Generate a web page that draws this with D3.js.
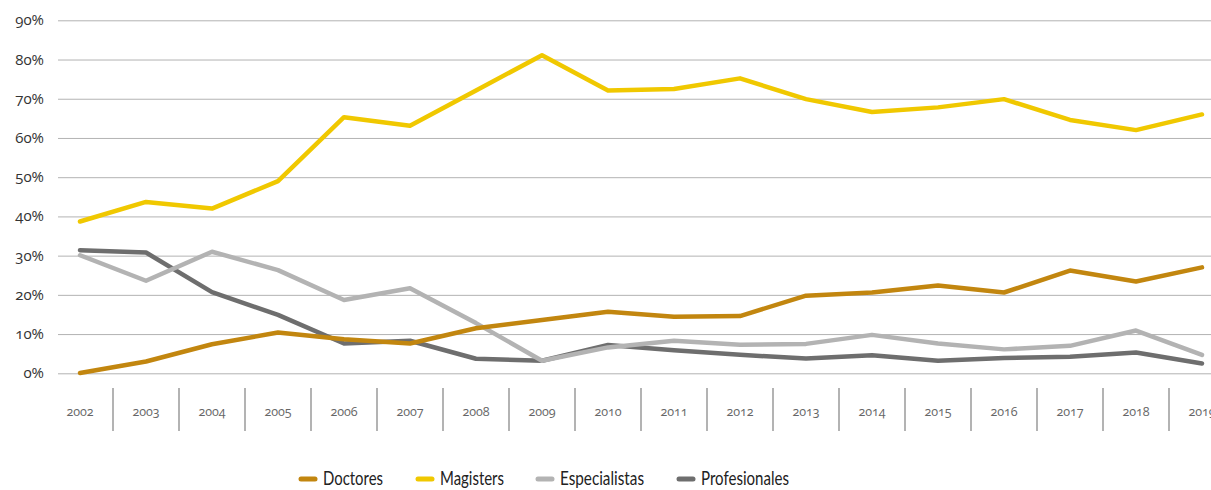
<!DOCTYPE html>
<html>
<head>
<meta charset="utf-8">
<script src="https://cdn.jsdelivr.net/npm/d3@7"></script>
<style>
  body { margin: 0; background: #fff; overflow: hidden; }
  text { font-family: "Open Sans", "Lato", sans-serif; font-feature-settings: "onum" 1; }
  .grid line { stroke: #b3b3b3; stroke-width: 1; }
  .grid text { fill: #333; font-size: 15px; }
  .year { fill: #666; font-size: 12.5px; }
  .legend text { fill: #222; font-size: 20px; font-family: "Lato", sans-serif; }
</style>
</head>
<body>
<script>
// data (percent)
var years = ["2002","2003","2004","2005","2006","2007","2008","2009","2010",
             "2011","2012","2013","2014","2015","2016","2017","2018","2019"];
var doctores      = [0.1, 3.0, 7.4, 10.4, 8.7, 7.6, 11.5, 13.6, 15.7, 14.4, 14.6, 19.8, 20.6, 22.4, 20.6, 26.2, 23.4, 27.0];
var magisters     = [38.7, 43.7, 42.0, 49.0, 65.3, 63.1, 72.1, 81.1, 72.1, 72.5, 75.2, 69.9, 66.6, 67.8, 69.9, 64.6, 62.0, 66.0];
var especialistas = [30.1, 23.6, 31.0, 26.3, 18.7, 21.7, 12.8, 3.2, 6.6, 8.3, 7.3, 7.5, 9.8, 7.6, 6.1, 7.0, 10.9, 4.7];
var profesionales = [31.4, 30.8, 20.7, 14.9, 7.6, 8.3, 3.7, 3.2, 7.2, 5.9, 4.7, 3.8, 4.6, 3.2, 3.9, 4.2, 5.3, 2.5];
var seriesNames  = ["Doctores", "Magisters", "Especialistas", "Profesionales"];
var seriesColors = ["#c2860f", "#f0c800", "#b3b3b3", "#6e6e6e"];
var yTicks = [0, 10, 20, 30, 40, 50, 60, 70, 80, 90];

var W = 1211, H = 490;
var svg = d3.select("body").append("svg")
    .attr("width", W)
    .attr("height", H);

var x = d3.scaleBand().domain(years).range([47, 47 + 66 * years.length]);
var y = d3.scaleLinear().domain([0, 90]).range([373.3, 20.3]);

// horizontal grid + y labels
var grid = svg.append("g")
    .attr("class", "grid")
    .attr("transform", "translate(58,0)")
    .call(d3.axisLeft(y)
        .tickValues(yTicks)
        .tickSize(-(x.range()[1] - 58))
        .tickPadding(14)
        .tickFormat(function (d) { return d + "%"; }));
grid.select(".domain").remove();
grid.selectAll("text").attr("dy", "0.3em");

// year labels and separators
var xg = svg.append("g");
xg.selectAll(".sep")
    .data(years.slice(1))
    .enter().append("line")
    .attr("class", "sep")
    .attr("x1", function (d) { return x(d); })
    .attr("x2", function (d) { return x(d); })
    .attr("y1", 388)
    .attr("y2", 431)
    .attr("stroke", "#b3b3b3")
    .attr("stroke-width", 2);

xg.selectAll(".year")
    .data(years)
    .enter().append("text")
    .attr("class", "year")
    .attr("x", function (d) { return x(d) + x.bandwidth() / 2; })
    .attr("y", 412)
    .attr("dy", "0.3em")
    .attr("text-anchor", "middle")
    .text(function (d) { return d; });

// lines (drawn in reverse order so Doctores ends on top)
var allSeries = [doctores, magisters, especialistas, profesionales];
var line = d3.line()
    .x(function (d, i) { return x(years[i]) + x.bandwidth() / 2; })
    .y(function (d) { return y(d); });

[3, 2, 1, 0].forEach(function (k) {
    svg.append("path")
        .datum(allSeries[k])
        .attr("fill", "none")
        .attr("stroke", seriesColors[k])
        .attr("stroke-width", 4.5)
        .attr("stroke-linejoin", "round")
        .attr("stroke-linecap", "round")
        .attr("d", line);
});

// legend (the original font is a condensed one, so squeeze the labels a bit)
var legendX = [301, 418, 538, 679];
var legendW = [60, 64, 84, 88];
var legend = svg.selectAll(".legend")
    .data(seriesNames)
    .enter().append("g")
    .attr("class", "legend")
    .attr("transform", function (d, i) { return "translate(" + legendX[i] + ",479)"; });

legend.append("line")
    .attr("x1", 0).attr("x2", 14)
    .attr("stroke", function (d, i) { return seriesColors[i]; })
    .attr("stroke-width", 5)
    .attr("stroke-linecap", "round");

legend.append("text")
    .attr("x", 22)
    .attr("y", 6)
    .attr("textLength", function (d, i) { return legendW[i]; })
    .attr("lengthAdjust", "spacingAndGlyphs")
    .text(function (d) { return d; });
</script>
</body>
</html>
